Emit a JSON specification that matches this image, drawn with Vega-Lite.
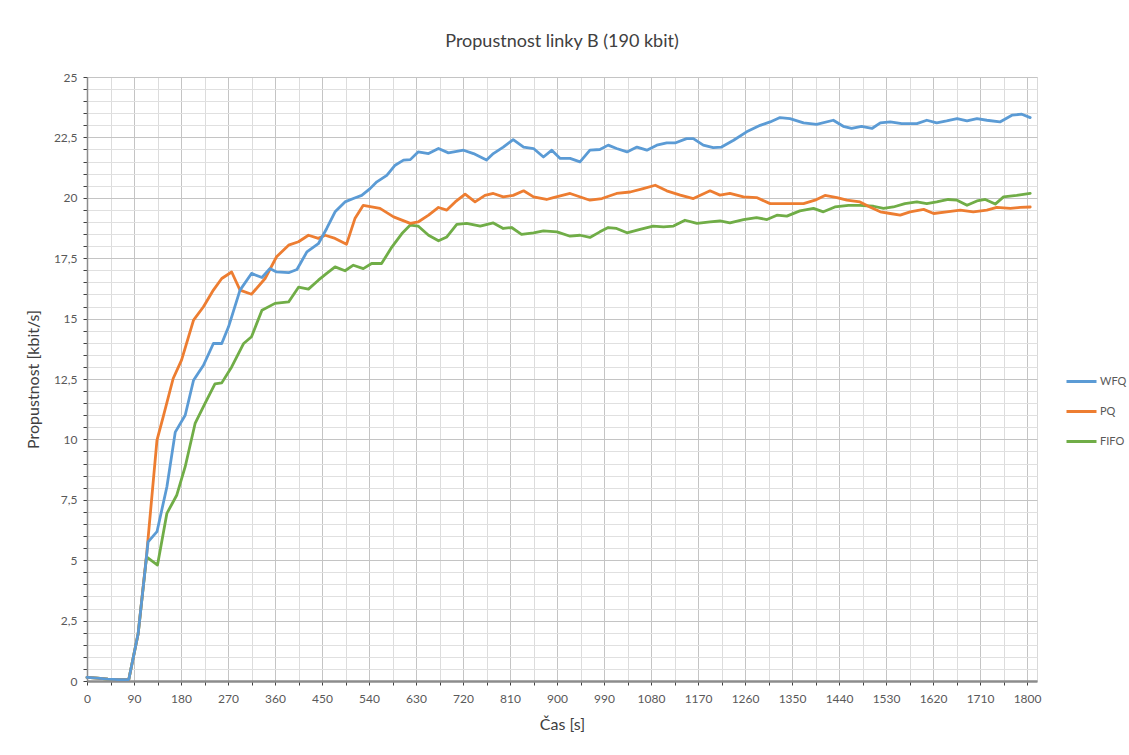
{
  "$schema": "https://vega.github.io/schema/vega-lite/v6.json",
  "autosize": {"type": "none"},
  "width": 950,
  "height": 604,
  "padding": {"left": 87, "top": 77, "right": 92, "bottom": 74},
  "background": "white",
  "config": {
    "font": "Lato",
    "view": {"stroke": "#d9d9d9", "strokeWidth": 1}
  },
  "title": {
    "text": "Propustnost linky B (190 kbit)",
    "fontSize": 18,
    "fontWeight": "normal",
    "color": "#404040",
    "anchor": "middle",
    "offset": 20
  },
  "data": {
    "values": [
      {"t": 0, "s": "FIFO", "v": 0.15}, {"t": 20, "s": "FIFO", "v": 0.12}, {"t": 40, "s": "FIFO", "v": 0.08}, {"t": 60, "s": "FIFO", "v": 0.06}, {"t": 80, "s": "FIFO", "v": 0.06},
      {"t": 98, "s": "FIFO", "v": 1.97}, {"t": 114, "s": "FIFO", "v": 5.14}, {"t": 135, "s": "FIFO", "v": 4.8}, {"t": 153, "s": "FIFO", "v": 6.94}, {"t": 172, "s": "FIFO", "v": 7.7},
      {"t": 188, "s": "FIFO", "v": 8.87}, {"t": 207, "s": "FIFO", "v": 10.66}, {"t": 226, "s": "FIFO", "v": 11.49}, {"t": 245, "s": "FIFO", "v": 12.3}, {"t": 258, "s": "FIFO", "v": 12.34},
      {"t": 277, "s": "FIFO", "v": 13.0}, {"t": 300, "s": "FIFO", "v": 13.97}, {"t": 315, "s": "FIFO", "v": 14.25}, {"t": 335, "s": "FIFO", "v": 15.35}, {"t": 360, "s": "FIFO", "v": 15.63},
      {"t": 386, "s": "FIFO", "v": 15.69}, {"t": 405, "s": "FIFO", "v": 16.3}, {"t": 424, "s": "FIFO", "v": 16.22}, {"t": 443, "s": "FIFO", "v": 16.59}, {"t": 459, "s": "FIFO", "v": 16.87},
      {"t": 475, "s": "FIFO", "v": 17.14}, {"t": 494, "s": "FIFO", "v": 16.98}, {"t": 510, "s": "FIFO", "v": 17.21}, {"t": 529, "s": "FIFO", "v": 17.07}, {"t": 545, "s": "FIFO", "v": 17.28},
      {"t": 564, "s": "FIFO", "v": 17.28}, {"t": 584, "s": "FIFO", "v": 17.97}, {"t": 603, "s": "FIFO", "v": 18.52}, {"t": 619, "s": "FIFO", "v": 18.87}, {"t": 634, "s": "FIFO", "v": 18.83},
      {"t": 654, "s": "FIFO", "v": 18.45}, {"t": 673, "s": "FIFO", "v": 18.22}, {"t": 689, "s": "FIFO", "v": 18.38}, {"t": 708, "s": "FIFO", "v": 18.9}, {"t": 727, "s": "FIFO", "v": 18.94},
      {"t": 753, "s": "FIFO", "v": 18.83}, {"t": 778, "s": "FIFO", "v": 18.96}, {"t": 797, "s": "FIFO", "v": 18.73}, {"t": 813, "s": "FIFO", "v": 18.77}, {"t": 832, "s": "FIFO", "v": 18.49},
      {"t": 855, "s": "FIFO", "v": 18.55}, {"t": 874, "s": "FIFO", "v": 18.63}, {"t": 900, "s": "FIFO", "v": 18.59}, {"t": 925, "s": "FIFO", "v": 18.41}, {"t": 944, "s": "FIFO", "v": 18.45},
      {"t": 963, "s": "FIFO", "v": 18.36}, {"t": 982, "s": "FIFO", "v": 18.59}, {"t": 998, "s": "FIFO", "v": 18.77}, {"t": 1014, "s": "FIFO", "v": 18.73}, {"t": 1034, "s": "FIFO", "v": 18.55},
      {"t": 1059, "s": "FIFO", "v": 18.69}, {"t": 1084, "s": "FIFO", "v": 18.83}, {"t": 1104, "s": "FIFO", "v": 18.8}, {"t": 1123, "s": "FIFO", "v": 18.83}, {"t": 1145, "s": "FIFO", "v": 19.07},
      {"t": 1168, "s": "FIFO", "v": 18.94}, {"t": 1193, "s": "FIFO", "v": 19.0}, {"t": 1212, "s": "FIFO", "v": 19.04}, {"t": 1231, "s": "FIFO", "v": 18.96}, {"t": 1257, "s": "FIFO", "v": 19.1},
      {"t": 1282, "s": "FIFO", "v": 19.18}, {"t": 1302, "s": "FIFO", "v": 19.1}, {"t": 1321, "s": "FIFO", "v": 19.28}, {"t": 1340, "s": "FIFO", "v": 19.24}, {"t": 1365, "s": "FIFO", "v": 19.46},
      {"t": 1391, "s": "FIFO", "v": 19.56}, {"t": 1410, "s": "FIFO", "v": 19.42}, {"t": 1432, "s": "FIFO", "v": 19.62}, {"t": 1458, "s": "FIFO", "v": 19.69}, {"t": 1480, "s": "FIFO", "v": 19.69},
      {"t": 1506, "s": "FIFO", "v": 19.65}, {"t": 1525, "s": "FIFO", "v": 19.56}, {"t": 1544, "s": "FIFO", "v": 19.62}, {"t": 1566, "s": "FIFO", "v": 19.76}, {"t": 1589, "s": "FIFO", "v": 19.83},
      {"t": 1608, "s": "FIFO", "v": 19.76}, {"t": 1627, "s": "FIFO", "v": 19.83}, {"t": 1649, "s": "FIFO", "v": 19.93}, {"t": 1666, "s": "FIFO", "v": 19.9}, {"t": 1685, "s": "FIFO", "v": 19.69},
      {"t": 1704, "s": "FIFO", "v": 19.87}, {"t": 1720, "s": "FIFO", "v": 19.93}, {"t": 1739, "s": "FIFO", "v": 19.74}, {"t": 1755, "s": "FIFO", "v": 20.04}, {"t": 1780, "s": "FIFO", "v": 20.1},
      {"t": 1806, "s": "FIFO", "v": 20.18},

      {"t": 0, "s": "PQ", "v": 0.15}, {"t": 20, "s": "PQ", "v": 0.12}, {"t": 40, "s": "PQ", "v": 0.08}, {"t": 60, "s": "PQ", "v": 0.06}, {"t": 80, "s": "PQ", "v": 0.06},
      {"t": 98, "s": "PQ", "v": 1.97}, {"t": 114, "s": "PQ", "v": 5.2}, {"t": 134, "s": "PQ", "v": 9.97}, {"t": 146, "s": "PQ", "v": 10.94}, {"t": 165, "s": "PQ", "v": 12.52},
      {"t": 181, "s": "PQ", "v": 13.28}, {"t": 204, "s": "PQ", "v": 14.94}, {"t": 223, "s": "PQ", "v": 15.49}, {"t": 242, "s": "PQ", "v": 16.18}, {"t": 258, "s": "PQ", "v": 16.66},
      {"t": 277, "s": "PQ", "v": 16.93}, {"t": 293, "s": "PQ", "v": 16.18}, {"t": 315, "s": "PQ", "v": 16.01}, {"t": 341, "s": "PQ", "v": 16.66}, {"t": 363, "s": "PQ", "v": 17.56},
      {"t": 386, "s": "PQ", "v": 18.04}, {"t": 405, "s": "PQ", "v": 18.18}, {"t": 424, "s": "PQ", "v": 18.45}, {"t": 443, "s": "PQ", "v": 18.32}, {"t": 456, "s": "PQ", "v": 18.45},
      {"t": 475, "s": "PQ", "v": 18.32}, {"t": 497, "s": "PQ", "v": 18.08}, {"t": 513, "s": "PQ", "v": 19.14}, {"t": 529, "s": "PQ", "v": 19.69}, {"t": 561, "s": "PQ", "v": 19.56},
      {"t": 587, "s": "PQ", "v": 19.21}, {"t": 619, "s": "PQ", "v": 18.94}, {"t": 634, "s": "PQ", "v": 19.0}, {"t": 654, "s": "PQ", "v": 19.28}, {"t": 673, "s": "PQ", "v": 19.6},
      {"t": 689, "s": "PQ", "v": 19.49}, {"t": 705, "s": "PQ", "v": 19.83}, {"t": 724, "s": "PQ", "v": 20.15}, {"t": 743, "s": "PQ", "v": 19.83}, {"t": 762, "s": "PQ", "v": 20.1},
      {"t": 778, "s": "PQ", "v": 20.18}, {"t": 797, "s": "PQ", "v": 20.04}, {"t": 816, "s": "PQ", "v": 20.1}, {"t": 836, "s": "PQ", "v": 20.29}, {"t": 855, "s": "PQ", "v": 20.04},
      {"t": 880, "s": "PQ", "v": 19.93}, {"t": 893, "s": "PQ", "v": 20.01}, {"t": 925, "s": "PQ", "v": 20.18}, {"t": 963, "s": "PQ", "v": 19.9}, {"t": 986, "s": "PQ", "v": 19.97},
      {"t": 1014, "s": "PQ", "v": 20.18}, {"t": 1040, "s": "PQ", "v": 20.24}, {"t": 1065, "s": "PQ", "v": 20.38}, {"t": 1088, "s": "PQ", "v": 20.52}, {"t": 1110, "s": "PQ", "v": 20.29},
      {"t": 1136, "s": "PQ", "v": 20.11}, {"t": 1161, "s": "PQ", "v": 19.97}, {"t": 1193, "s": "PQ", "v": 20.29}, {"t": 1212, "s": "PQ", "v": 20.11}, {"t": 1231, "s": "PQ", "v": 20.18},
      {"t": 1257, "s": "PQ", "v": 20.04}, {"t": 1282, "s": "PQ", "v": 20.01}, {"t": 1308, "s": "PQ", "v": 19.76}, {"t": 1340, "s": "PQ", "v": 19.76}, {"t": 1372, "s": "PQ", "v": 19.76},
      {"t": 1394, "s": "PQ", "v": 19.9}, {"t": 1413, "s": "PQ", "v": 20.1}, {"t": 1436, "s": "PQ", "v": 20.01}, {"t": 1455, "s": "PQ", "v": 19.9}, {"t": 1480, "s": "PQ", "v": 19.83},
      {"t": 1499, "s": "PQ", "v": 19.62}, {"t": 1519, "s": "PQ", "v": 19.42}, {"t": 1538, "s": "PQ", "v": 19.35}, {"t": 1557, "s": "PQ", "v": 19.28}, {"t": 1576, "s": "PQ", "v": 19.42},
      {"t": 1602, "s": "PQ", "v": 19.52}, {"t": 1621, "s": "PQ", "v": 19.35}, {"t": 1646, "s": "PQ", "v": 19.42}, {"t": 1672, "s": "PQ", "v": 19.49}, {"t": 1697, "s": "PQ", "v": 19.42},
      {"t": 1723, "s": "PQ", "v": 19.49}, {"t": 1742, "s": "PQ", "v": 19.6}, {"t": 1768, "s": "PQ", "v": 19.56}, {"t": 1787, "s": "PQ", "v": 19.6}, {"t": 1806, "s": "PQ", "v": 19.62},

      {"t": 0, "s": "WFQ", "v": 0.15}, {"t": 20, "s": "WFQ", "v": 0.12}, {"t": 40, "s": "WFQ", "v": 0.08}, {"t": 60, "s": "WFQ", "v": 0.06}, {"t": 80, "s": "WFQ", "v": 0.06},
      {"t": 98, "s": "WFQ", "v": 1.97}, {"t": 117, "s": "WFQ", "v": 5.76}, {"t": 134, "s": "WFQ", "v": 6.18}, {"t": 153, "s": "WFQ", "v": 8.04}, {"t": 169, "s": "WFQ", "v": 10.3},
      {"t": 188, "s": "WFQ", "v": 11.0}, {"t": 204, "s": "WFQ", "v": 12.45}, {"t": 223, "s": "WFQ", "v": 13.07}, {"t": 242, "s": "WFQ", "v": 13.97}, {"t": 258, "s": "WFQ", "v": 13.97},
      {"t": 271, "s": "WFQ", "v": 14.66}, {"t": 293, "s": "WFQ", "v": 16.18}, {"t": 315, "s": "WFQ", "v": 16.87}, {"t": 335, "s": "WFQ", "v": 16.7}, {"t": 350, "s": "WFQ", "v": 17.07},
      {"t": 363, "s": "WFQ", "v": 16.93}, {"t": 386, "s": "WFQ", "v": 16.9}, {"t": 402, "s": "WFQ", "v": 17.03}, {"t": 421, "s": "WFQ", "v": 17.76}, {"t": 443, "s": "WFQ", "v": 18.1},
      {"t": 459, "s": "WFQ", "v": 18.73}, {"t": 475, "s": "WFQ", "v": 19.42}, {"t": 494, "s": "WFQ", "v": 19.83}, {"t": 510, "s": "WFQ", "v": 19.97}, {"t": 526, "s": "WFQ", "v": 20.1},
      {"t": 542, "s": "WFQ", "v": 20.38}, {"t": 555, "s": "WFQ", "v": 20.66}, {"t": 574, "s": "WFQ", "v": 20.93}, {"t": 590, "s": "WFQ", "v": 21.35}, {"t": 606, "s": "WFQ", "v": 21.56},
      {"t": 619, "s": "WFQ", "v": 21.58}, {"t": 634, "s": "WFQ", "v": 21.9}, {"t": 654, "s": "WFQ", "v": 21.83}, {"t": 673, "s": "WFQ", "v": 22.04}, {"t": 692, "s": "WFQ", "v": 21.86},
      {"t": 721, "s": "WFQ", "v": 21.97}, {"t": 740, "s": "WFQ", "v": 21.83}, {"t": 765, "s": "WFQ", "v": 21.56}, {"t": 778, "s": "WFQ", "v": 21.83}, {"t": 797, "s": "WFQ", "v": 22.1},
      {"t": 816, "s": "WFQ", "v": 22.41}, {"t": 836, "s": "WFQ", "v": 22.1}, {"t": 855, "s": "WFQ", "v": 22.04}, {"t": 874, "s": "WFQ", "v": 21.69}, {"t": 890, "s": "WFQ", "v": 21.97},
      {"t": 906, "s": "WFQ", "v": 21.63}, {"t": 925, "s": "WFQ", "v": 21.63}, {"t": 944, "s": "WFQ", "v": 21.49}, {"t": 963, "s": "WFQ", "v": 21.97}, {"t": 982, "s": "WFQ", "v": 22.0},
      {"t": 998, "s": "WFQ", "v": 22.18}, {"t": 1014, "s": "WFQ", "v": 22.04}, {"t": 1034, "s": "WFQ", "v": 21.9}, {"t": 1053, "s": "WFQ", "v": 22.1}, {"t": 1072, "s": "WFQ", "v": 21.97},
      {"t": 1091, "s": "WFQ", "v": 22.18}, {"t": 1110, "s": "WFQ", "v": 22.27}, {"t": 1126, "s": "WFQ", "v": 22.27}, {"t": 1148, "s": "WFQ", "v": 22.45}, {"t": 1161, "s": "WFQ", "v": 22.45},
      {"t": 1180, "s": "WFQ", "v": 22.18}, {"t": 1199, "s": "WFQ", "v": 22.08}, {"t": 1215, "s": "WFQ", "v": 22.1}, {"t": 1238, "s": "WFQ", "v": 22.38}, {"t": 1263, "s": "WFQ", "v": 22.73},
      {"t": 1289, "s": "WFQ", "v": 23.0}, {"t": 1308, "s": "WFQ", "v": 23.14}, {"t": 1327, "s": "WFQ", "v": 23.32}, {"t": 1346, "s": "WFQ", "v": 23.28}, {"t": 1372, "s": "WFQ", "v": 23.1},
      {"t": 1397, "s": "WFQ", "v": 23.04}, {"t": 1429, "s": "WFQ", "v": 23.21}, {"t": 1448, "s": "WFQ", "v": 22.96}, {"t": 1464, "s": "WFQ", "v": 22.87}, {"t": 1483, "s": "WFQ", "v": 22.96},
      {"t": 1503, "s": "WFQ", "v": 22.87}, {"t": 1519, "s": "WFQ", "v": 23.1}, {"t": 1538, "s": "WFQ", "v": 23.14}, {"t": 1560, "s": "WFQ", "v": 23.07}, {"t": 1589, "s": "WFQ", "v": 23.07},
      {"t": 1608, "s": "WFQ", "v": 23.21}, {"t": 1627, "s": "WFQ", "v": 23.1}, {"t": 1646, "s": "WFQ", "v": 23.18}, {"t": 1666, "s": "WFQ", "v": 23.28}, {"t": 1685, "s": "WFQ", "v": 23.18},
      {"t": 1704, "s": "WFQ", "v": 23.28}, {"t": 1723, "s": "WFQ", "v": 23.21}, {"t": 1748, "s": "WFQ", "v": 23.14}, {"t": 1771, "s": "WFQ", "v": 23.42}, {"t": 1790, "s": "WFQ", "v": 23.46},
      {"t": 1806, "s": "WFQ", "v": 23.32}
    ]
  },
  "mark": {"type": "line", "strokeWidth": 2.8, "strokeJoin": "round", "strokeCap": "round"},
  "encoding": {
    "x": {
      "field": "t",
      "type": "quantitative",
      "scale": {"domain": [0, 1819], "nice": false, "zero": false},
      "axis": {
        "title": "Čas [s]",
        "titleFont": "Lato",
        "titleFontSize": 16,
        "titleFontWeight": "normal",
        "titleColor": "#404040",
        "titlePadding": 12,
        "values": [0,45,90,135,180,225,270,315,360,405,450,495,540,585,630,675,720,765,810,855,900,945,990,1035,1080,1125,1170,1215,1260,1305,1350,1395,1440,1485,1530,1575,1620,1665,1710,1755,1800],
        "labelExpr": "datum.value % 90 == 0 ? '' + datum.value : ''",
        "labelOverlap": false,
        "labelFlush": false,
        "labelFontSize": 12,
        "labelColor": "#595959",
        "labelPadding": 8,
        "domainColor": "#8c8c8c",
        "domainWidth": 2.5,
        "tickColor": "#404040",
        "tickSize": 4,
        "tickWidth": 1,
        "grid": true,
        "gridColor": {"condition": {"test": "datum.value % 90 == 0", "value": "#c4c4c4"}, "value": "#dcdcdc"},
        "gridWidth": 1
      }
    },
    "y": {
      "field": "v",
      "type": "quantitative",
      "scale": {"domain": [0, 25], "nice": false},
      "axis": {
        "title": "Propustnost [kbit/s]",
        "titleFont": "Lato",
        "titleFontSize": 16,
        "titleFontWeight": "normal",
        "titleColor": "#404040",
        "titlePadding": 12,
        "values": [0,0.5,1,1.5,2,2.5,3,3.5,4,4.5,5,5.5,6,6.5,7,7.5,8,8.5,9,9.5,10,10.5,11,11.5,12,12.5,13,13.5,14,14.5,15,15.5,16,16.5,17,17.5,18,18.5,19,19.5,20,20.5,21,21.5,22,22.5,23,23.5,24,24.5,25],
        "labelExpr": "datum.value % 2.5 == 0 ? replace(format(datum.value, '.1~f'), '.', ',') : ''",
        "labelOverlap": false,
        "labelFontSize": 12,
        "labelColor": "#595959",
        "labelPadding": 6,
        "domainColor": "#8c8c8c",
        "domainWidth": 1.5,
        "tickColor": "#404040",
        "tickSize": 4,
        "tickWidth": 1,
        "grid": true,
        "gridColor": {"condition": {"test": "datum.value % 2.5 == 0", "value": "#c4c4c4"}, "value": "#e0e0e0"},
        "gridWidth": 1
      }
    },
    "color": {
      "field": "s",
      "type": "nominal",
      "scale": {"domain": ["WFQ", "PQ", "FIFO"], "range": ["#5B9BD5", "#ED7D31", "#70AD47"]},
      "legend": {
        "title": null,
        "orient": "none",
        "legendX": 978,
        "legendY": 288,
        "symbolType": "stroke",
        "symbolStrokeWidth": 3,
        "symbolSize": 900,
        "labelFontSize": 11,
        "labelColor": "#595959",
        "labelOffset": 2,
        "rowPadding": 7
      }
    },
    "order": {"field": "t", "type": "quantitative"}
  }
}
